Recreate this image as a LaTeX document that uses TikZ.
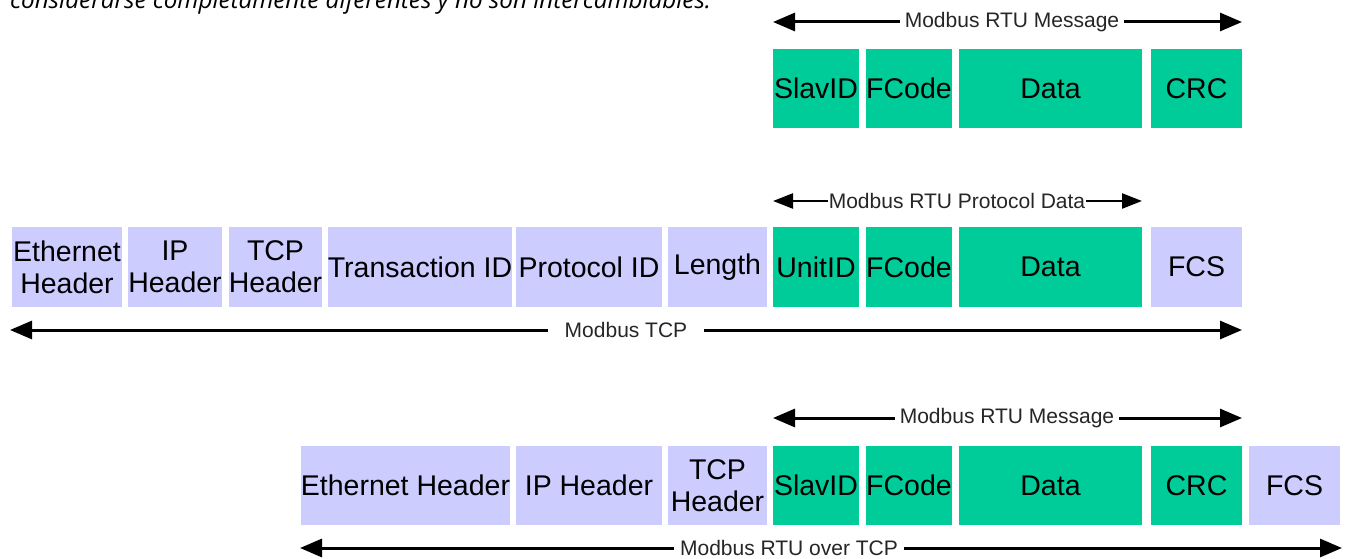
\documentclass[tikz,border=0pt]{standalone}
\usepackage{fontspec}
\setmainfont{Liberation Sans}
\newfontfamily\capfont{Open Sans}
\usetikzlibrary{arrows.meta}
\definecolor{mgreen}{RGB}{0,204,153}
\definecolor{mlav}{RGB}{204,204,255}
\tikzset{
  field/.style={inner sep=0pt, align=center, font=\fontsize{28.5}{32}\selectfont, text=black},
  gfield/.style={field, fill=mgreen},
  lfield/.style={field, fill=mlav},
  bigarrow/.style={line width=3pt, {Triangle[length=22pt,width=18pt]}-{Triangle[length=22pt,width=18pt]}},
  smallarrow/.style={line width=2.4pt, {Triangle[length=20pt,width=15pt]}-{Triangle[length=20pt,width=15pt]}},
  dimlabel/.style={fill=white, inner xsep=5pt, inner ysep=2pt, font=\fontsize{21}{24}\selectfont, text=black!85},
}
\begin{document}
\begin{tikzpicture}[x=1pt,y=-1pt]
\useasboundingbox (0,0) rectangle (1345,559);
\clip (0,0) rectangle (1345,559);
\fill[white] (0,0) rectangle (1345,559);

% caption fragment at the top (cut off in the reference)
\node[anchor=base west, inner sep=0pt, font=\capfont\itshape\fontsize{24.2}{28}\selectfont, text=black] (cap) at (10,9) {considerarse completamente diferentes y no son intercambiables.};

% ---------- top row: Modbus RTU message ----------
\node[gfield, minimum width=86pt, minimum height=79pt] (t1) at (816,88.5) {SlavID};
\node[gfield, minimum width=86pt, minimum height=79pt] (t2) at (909,88.5) {FCode};
\node[gfield, minimum width=183pt, minimum height=79pt] (t3) at (1050.5,88.5) {Data};
\node[gfield, minimum width=91pt, minimum height=79pt] (t4) at (1196.5,88.5) {CRC};

\coordinate (a1l) at (773,22);
\coordinate (a1r) at (1242,22);
\draw[bigarrow] (a1l) -- (a1r);
\node[dimlabel] (l1) at (1012,22) {Modbus RTU Message};

% ---------- middle row: Modbus TCP ----------
\node[lfield, minimum width=110pt, minimum height=80pt] (m1) at (67,267) {Ethernet\\Header};
\node[lfield, minimum width=94pt, minimum height=80pt] (m2) at (175,267) {IP\\Header};
\node[lfield, minimum width=93pt, minimum height=80pt] (m3) at (275.5,267) {TCP\\Header};
\node[lfield, minimum width=180pt, minimum height=80pt] (m4) at (420,267) {Transaction ID};
\node[lfield, minimum width=146pt, minimum height=80pt] (m5) at (589,267) {Protocol ID};
\node[lfield, minimum width=99pt, minimum height=80pt] (m6) at (717.5,267) {Length};
\node[gfield, minimum width=86pt, minimum height=80pt] (m7) at (816,267) {UnitID};
\node[gfield, minimum width=86pt, minimum height=80pt] (m8) at (909,267) {FCode};
\node[gfield, minimum width=183pt, minimum height=80pt] (m9) at (1050.5,267) {Data};
\node[lfield, minimum width=91pt, minimum height=80pt] (m10) at (1196.5,267) {FCS};

\coordinate (a2l) at (773,201);
\coordinate (a2r) at (1142,201);
\draw[smallarrow] (a2l) -- (a2r);
\node[dimlabel, inner xsep=1pt] (l2) at (957,201) {Modbus RTU Protocol Data};

\coordinate (a3l) at (10,330);
\coordinate (a3r) at (1242,330);
\draw[bigarrow] (a3l) -- (a3r);
\node[dimlabel, inner xsep=17pt] (l3) at (626,330) {Modbus TCP};

% ---------- bottom row: Modbus RTU over TCP ----------
\node[lfield, minimum width=209pt, minimum height=79pt] (b1) at (405.5,485.5) {Ethernet Header};
\node[lfield, minimum width=146pt, minimum height=79pt] (b2) at (589,485.5) {IP Header};
\node[lfield, minimum width=99pt, minimum height=79pt] (b3) at (717.5,485.5) {TCP\\Header};
\node[gfield, minimum width=86pt, minimum height=79pt] (b4) at (816,485.5) {SlavID};
\node[gfield, minimum width=86pt, minimum height=79pt] (b5) at (909,485.5) {FCode};
\node[gfield, minimum width=183pt, minimum height=79pt] (b6) at (1050.5,485.5) {Data};
\node[gfield, minimum width=91pt, minimum height=79pt] (b7) at (1196.5,485.5) {CRC};
\node[lfield, minimum width=91pt, minimum height=79pt] (b8) at (1294.5,485.5) {FCS};

\coordinate (a4l) at (773,418);
\coordinate (a4r) at (1242,418);
\draw[bigarrow] (a4l) -- (a4r);
\node[dimlabel] (l4) at (1007,418) {Modbus RTU Message};

\coordinate (a5l) at (300,548);
\coordinate (a5r) at (1342,548);
\draw[bigarrow] (a5l) -- (a5r);
\node[dimlabel, inner xsep=6pt] (l5) at (789,548) {Modbus RTU over TCP};
\end{tikzpicture}
\end{document}
